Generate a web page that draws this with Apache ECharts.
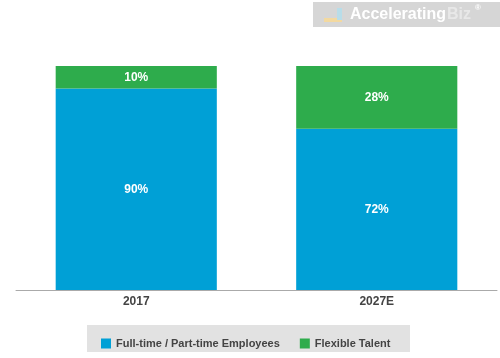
<!DOCTYPE html>
<html><head><meta charset="utf-8">
<script src="https://cdn.jsdelivr.net/npm/echarts@6/dist/echarts.min.js"></script>
<style>html,body{margin:0;padding:0;background:#fff}#c{width:500px;height:358px}</style>
</head><body><div id="c"></div>
<script>
var categories = ['2017', '2027E'];
var fullTime = [90, 72];
var flexible = [10, 28];
var seriesNames = ['Full-time / Part-time Employees', 'Flexible Talent'];

var chart = echarts.init(document.getElementById('c'));
var labelStyle = {show: true, position: 'inside', color: '#fff', fontWeight: 'bold', fontSize: 12, fontFamily: 'Liberation Sans, Arial, sans-serif', formatter: '{c}%'};
chart.setOption({
  animation: false,
  graphic: [
    {type: 'rect', shape: {x: 313, y: 2, width: 187, height: 25}, style: {fill: '#d6d6d6'}},
    {type: 'rect', shape: {x: 324, y: 18, width: 18, height: 4}, style: {fill: '#f3d9a0'}},
    {type: 'rect', shape: {x: 337, y: 8, width: 5, height: 12}, style: {fill: '#b8dde9'}},
    {type: 'text', style: {x: 350, y: 15, text: 'Accelerating', fill: '#ffffff', font: 'bold 16px Liberation Sans, Arial, sans-serif', verticalAlign: 'middle'}},
    {type: 'text', style: {x: 447, y: 15, text: 'Biz', fill: '#e8e8e8', font: 'bold 16px Liberation Sans, Arial, sans-serif', verticalAlign: 'middle'}},
    {type: 'text', style: {x: 475, y: 8, text: '®', fill: '#ffffff', font: 'bold 8px Liberation Sans, Arial, sans-serif', verticalAlign: 'middle'}},
    {type: 'rect', z: -1, shape: {x: 87, y: 325, width: 323, height: 27}, style: {fill: '#e2e2e2'}}
  ],
  legend: {
    data: seriesNames,
    left: 96, top: 333,
    itemWidth: 10, itemHeight: 10, itemGap: 20,
    icon: 'rect',
    textStyle: {color: '#444', fontWeight: 'bold', fontSize: 11, fontFamily: 'Liberation Sans, Arial, sans-serif'}
  },
  grid: {left: 16, right: 3, top: 66, bottom: 68},
  xAxis: {
    type: 'category', data: categories,
    axisLine: {lineStyle: {color: '#aaa'}},
    axisTick: {alignWithLabel: true, length: 5, lineStyle: {color: '#aaa'}},
    axisLabel: {color: '#444', fontWeight: 'bold', fontSize: 12, fontFamily: 'Liberation Sans, Arial, sans-serif', margin: 6}
  },
  yAxis: {type: 'value', min: 0, max: 100, show: false, splitLine: {show: false}},
  series: [
    {name: seriesNames[0], type: 'bar', stack: 'a', data: fullTime, barWidth: '67%', itemStyle: {color: '#00a0d6'}, label: labelStyle},
    {name: seriesNames[1], type: 'bar', stack: 'a', data: flexible, barWidth: '67%', itemStyle: {color: '#2eac4c'}, label: labelStyle}
  ]
});
</script></body></html>
